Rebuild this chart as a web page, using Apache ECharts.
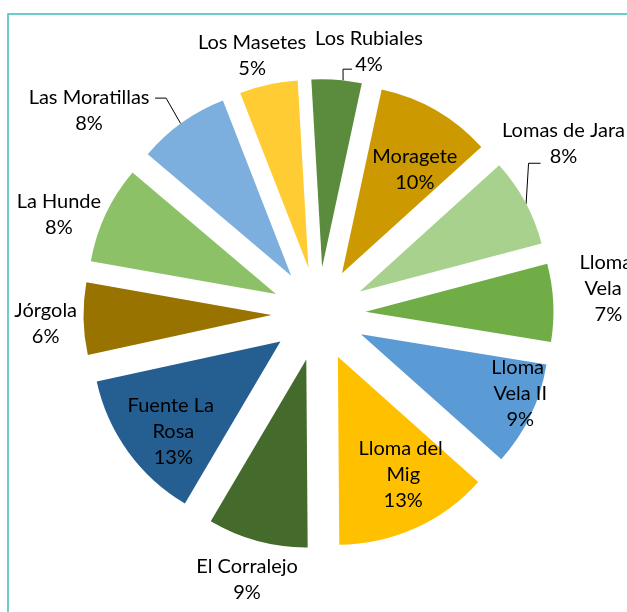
<!DOCTYPE html>
<html>
<head>
<meta charset="utf-8">
<script src="https://cdn.jsdelivr.net/npm/echarts@6/dist/echarts.min.js"></script>
<style>
  html, body { margin: 0; padding: 0; background: #fff; }
  #chart { width: 627px; height: 612px; }
</style>
</head>
<body>
<div id="chart"></div>
<script>
// parques eólicos: share of each one
const names = ['Los Rubiales', 'Moragete', 'Lomas de Jara', 'Lloma Vela I', 'Lloma Vela II', 'Lloma del Mig',
    'El Corralejo', 'Fuente La Rosa', 'Jórgola', 'La Hunde', 'Las Moratillas', 'Los Masetes'];
const shares = [4.3, 9.9, 7.6, 6.7, 9.0, 13.3, 8.6, 13.1, 6.2, 8.4, 7.9, 5.0];

const colors = ['#5B8B3D', '#CC9A00', '#A9D18E', '#70AD47', '#5B9BD5', '#FFC000',
    '#446A2C', '#255E91', '#997300', '#8CC168', '#7CAFDD', '#FFCD33'];

// label placement, measured from each slice's tip (clockwise degrees from 12 o'clock, px)
const labelAngle = [12.25, 35.0, 53.95, 84.65, 110.4, 151.05, 195.05, 229.9, 267.8, 290.0, 309.25, 345.15];
const labelDist = [221, 127, 252, 244, 170, 135, 228, 140, 226, 231, 261, 220];
const labelWrap = [0, 0, 0, 62, 66, 98, 0, 98, 0, 0, 0, 0];

// leader lines: where they leave the arc (degrees), elbow and end relative to the label centre
const leaders = {
    0: { arc: 6.4, elbow: [-26, 18], end: [-17, 18] },
    2: { arc: 62.2, elbow: [-35, 20], end: [-23, 20] },
    10: { arc: 324, elbow: [77, -12.5], end: [66, -12.5] }
};

const center = [318.5, 314];
const radius = 188;
const explode = 47;
const firstAngle = -3.3; // degrees clockwise from 12 o'clock

const total = shares.reduce((a, b) => a + b, 0);
const rad = d => d * Math.PI / 180;
const polar = (o, deg, r) => [o[0] + r * Math.sin(rad(deg)), o[1] - r * Math.cos(rad(deg))];

// tip of every exploded slice
const tips = [];
let acc = 0;
shares.forEach(v => {
    const mid = firstAngle + (acc + v / 2) / total * 360;
    acc += v;
    tips.push(polar(center, mid, explode));
});

const chart = echarts.init(document.getElementById('chart'));

// one pie per slice, each pushed out along its own middle angle
const series = names.map((_, k) => ({
    type: 'pie',
    center: tips[k],
    radius: radius,
    startAngle: 90 - firstAngle,
    clockwise: true,
    silent: true,
    avoidLabelOverlap: false,
    emphasis: { disabled: true },
    itemStyle: { borderWidth: 0 },
    label: {
        show: false,
        position: 'outside',
        color: '#000',
        fontFamily: 'Lato',
        fontSize: 20,
        lineHeight: 26,
        align: 'center',
        formatter: p => p.name + '\n' + Math.round(p.value / total * 100) + '%'
    },
    labelLine: {
        show: false,
        length: 10,
        length2: 10,
        lineStyle: { color: '#000', width: 1 }
    },
    labelLayout: p => {
        if (p.dataIndex !== k) return {};
        const pos = polar(tips[k], labelAngle[k], labelDist[k]);
        const out = { x: pos[0], y: pos[1], align: 'center', verticalAlign: 'middle' };
        const ld = leaders[k];
        if (ld) {
            out.labelLinePoints = [
                polar(tips[k], ld.arc, radius),
                [pos[0] + ld.elbow[0], pos[1] + ld.elbow[1]],
                [pos[0] + ld.end[0], pos[1] + ld.end[1]]
            ];
        }
        return out;
    },
    data: names.map((n, i) => ({
        name: n,
        value: shares[i],
        itemStyle: { color: i === k ? colors[i] : 'rgba(0,0,0,0)' },
        label: i === k
            ? (labelWrap[i] ? { show: true, width: labelWrap[i], overflow: 'break' } : { show: true })
            : { show: false },
        labelLine: { show: i === k && !!leaders[i] }
    }))
}));

chart.setOption({
    animation: false,
    graphic: [{
        type: 'rect',
        z: -1,
        shape: { x: 8, y: 14, width: 700, height: 700 },
        style: { fill: 'none', stroke: '#3DBFB8', lineWidth: 1.5 }
    }],
    series: series
});
</script>
</body>
</html>
